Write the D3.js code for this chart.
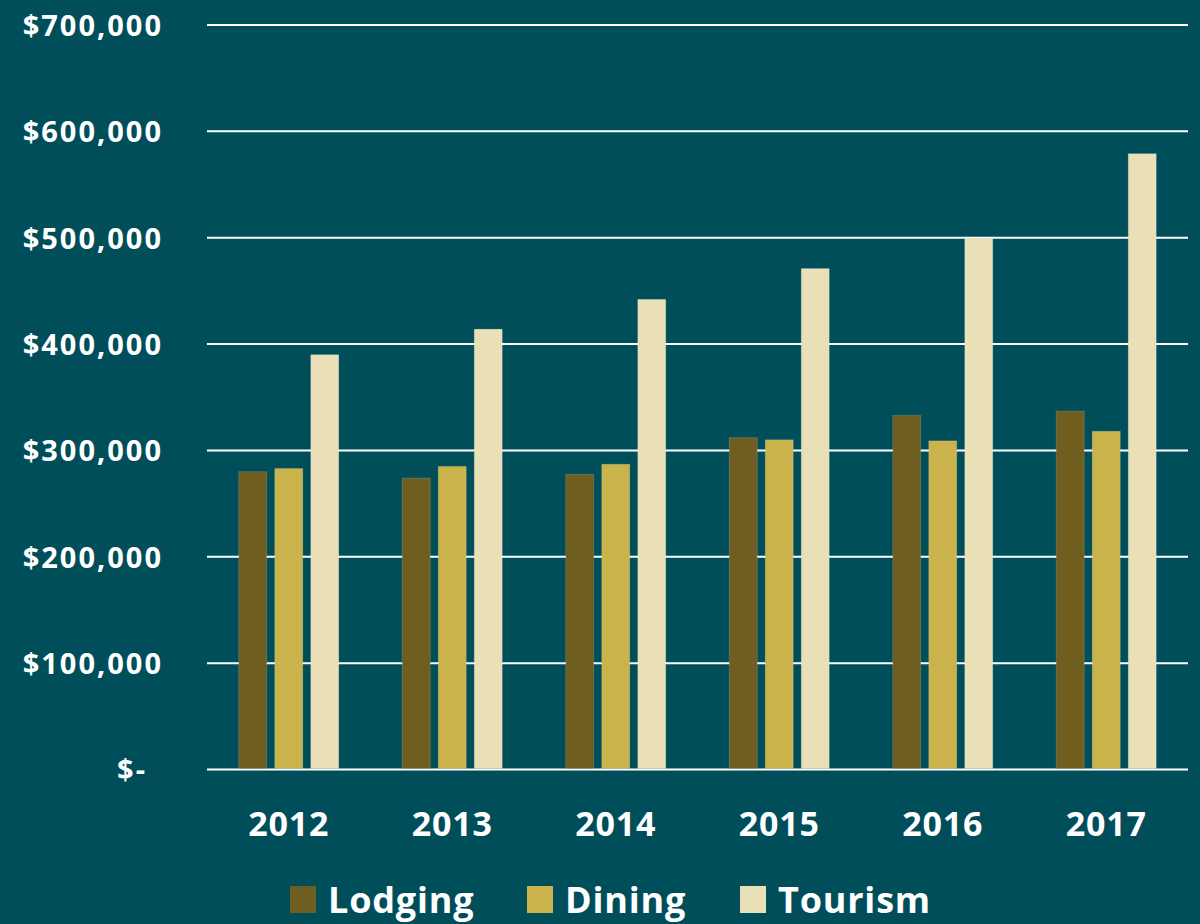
<!DOCTYPE html>
<html>
<head>
<meta charset="utf-8">
<script src="https://cdn.jsdelivr.net/npm/d3@7"></script>
<style>
  body { margin: 0; background: #004e5a; }
  svg text { font-family: "Open Sans", "Noto Sans", sans-serif; font-weight: bold; fill: #ffffff; }
</style>
</head>
<body>
<script>
//
// DATA
//
var years = ["2012", "2013", "2014", "2015", "2016", "2017"];
var series = ["Lodging", "Dining", "Tourism"];
var lodging = [280000, 274000, 277500, 312000, 333000, 337000];
var dining = [283000, 285000, 287000, 310000, 309000, 318000];
var tourism = [390000, 414000, 442000, 471000, 499500, 579000];
var yTicks = [0, 100000, 200000, 300000, 400000, 500000, 600000, 700000];

//
// LAYOUT
//
var width = 1200, height = 924;
var margin = { top: 25, right: 12, bottom: 155, left: 207 };
var colors = ["#6f5e20", "#cbb34b", "#e9e0b7"];

var svg = d3.select("body")
            .append("svg")
            .attr("width", width)
            .attr("height", height);

svg.append("rect")
   .attr("width", width)
   .attr("height", height)
   .attr("fill", "#004e5a");

var x = d3.scaleBand()
          .domain(years)
          .range([margin.left, width - margin.right]);

// 28px bars with 8px gaps inside each year band
var xSub = d3.scaleBand()
             .domain(series)
             .range([0, x.bandwidth()])
             .paddingInner(0.222)
             .paddingOuter(0.882);

var y = d3.scaleLinear()
          .domain([0, 700000])
          .range([height - margin.bottom + 0.5, margin.top]);

// Gridlines
svg.append("g")
   .selectAll("line")
   .data(yTicks)
   .enter()
   .append("line")
   .attr("x1", margin.left)
   .attr("x2", width - margin.right)
   .attr("y1", function(d){ return y(d); })
   .attr("y2", function(d){ return y(d); })
   .attr("stroke", "#ffffff")
   .attr("stroke-width", 2);

// Y axis labels
function fmt(d){
    return d === 0 ? "$-" : "$" + d3.format(",")(d);
}
var yAxis = d3.axisLeft(y)
              .tickValues(yTicks)
              .tickFormat(fmt)
              .tickSize(0)
              .tickPadding(0);
svg.append("g")
   .attr("transform", "translate(163,0)")
   .call(yAxis)
   .call(function(g){ g.select(".domain").remove(); })
   .selectAll("text")
   .attr("dy", "0.36em")
   .style("font-size", "29px")
   .style("letter-spacing", "2px")
   .attr("x", function(d){ return d === 0 ? -16 : 0; });

// Bars
var rows = years.map(function(yr, i){
    return { year: yr, values: [lodging[i], dining[i], tourism[i]] };
});

var groups = svg.append("g")
                .selectAll("g")
                .data(rows)
                .enter()
                .append("g")
                .attr("transform", function(d){ return "translate(" + x(d.year) + ",0)"; });

groups.selectAll("rect")
      .data(function(d){ return d.values.map(function(v, j){ return { key: series[j], value: v, idx: j }; }); })
      .enter()
      .append("rect")
      .attr("x", function(d){ return xSub(d.key); })
      .attr("width", xSub.bandwidth())
      .attr("y", function(d){ return y(d.value); })
      .attr("height", function(d){ return y(0) - y(d.value) - 1; })
      .attr("fill", function(d){ return colors[d.idx]; })
      .attr("stroke", "rgba(255,255,255,0.15)")
      .attr("stroke-width", 1);

// X axis labels
var xAxis = d3.axisBottom(x).tickSize(0).tickPadding(0);
svg.append("g")
   .attr("transform", "translate(0," + (height - margin.bottom) + ")")
   .call(xAxis)
   .call(function(g){ g.select(".domain").remove(); })
   .selectAll("text")
   .attr("y", 67)
   .attr("dy", 0)
   .style("font-size", "34px")
   .style("letter-spacing", "0.8px");

// Legend
var legendX = [290, 527, 740];
var legend = svg.append("g")
                .selectAll("g")
                .data(series)
                .enter()
                .append("g")
                .attr("transform", function(d, i){ return "translate(" + legendX[i] + ",886)"; });

legend.append("rect")
      .attr("width", 26)
      .attr("height", 27)
      .attr("fill", function(d, i){ return colors[i]; });

legend.append("text")
      .attr("x", 38)
      .attr("y", 27)
      .style("font-size", "36px")
      .style("letter-spacing", "0.8px")
      .text(function(d){ return d; });
</script>
</body>
</html>
